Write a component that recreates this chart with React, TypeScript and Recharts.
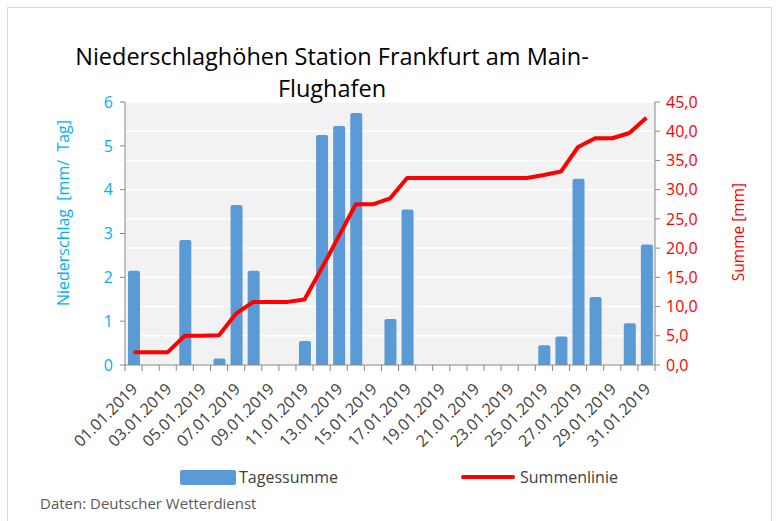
import { Bar, CartesianGrid, ComposedChart, Line, XAxis, YAxis } from "recharts";

const days = [
  "01.01.2019", "02.01.2019", "03.01.2019", "04.01.2019", "05.01.2019", "06.01.2019",
  "07.01.2019", "08.01.2019", "09.01.2019", "10.01.2019", "11.01.2019", "12.01.2019",
  "13.01.2019", "14.01.2019", "15.01.2019", "16.01.2019", "17.01.2019", "18.01.2019",
  "19.01.2019", "20.01.2019", "21.01.2019", "22.01.2019", "23.01.2019", "24.01.2019",
  "25.01.2019", "26.01.2019", "27.01.2019", "28.01.2019", "29.01.2019", "30.01.2019",
  "31.01.2019",
];

const tagessumme = [
  2.15, 0, 0, 2.85, 0, 0.15, 3.65, 2.15, 0, 0, 0.55, 5.25, 5.45, 5.75, 0, 1.05,
  3.55, 0, 0, 0, 0, 0, 0, 0, 0.45, 0.65, 4.25, 1.55, 0, 0.95, 2.75,
];

const summenlinie = [
  2.2, 2.2, 2.2, 5.0, 5.0, 5.1, 8.8, 10.8, 10.8, 10.8, 11.2, 16.5, 22.0, 27.5, 27.5, 28.5,
  32.0, 32.0, 32.0, 32.0, 32.0, 32.0, 32.0, 32.0, 32.5, 33.1, 37.3, 38.8, 38.8, 39.7, 42.3,
];

const leftTicks = [0, 1, 2, 3, 4, 5, 6];
const rightTicks = [0, 5, 10, 15, 20, 25, 30, 35, 40, 45];

const data = days.map((day, i) => ({
  day,
  tagessumme: tagessumme[i],
  summenlinie: summenlinie[i],
}));

const FONT = "'Open Sans', 'Noto Sans', sans-serif";
const PLOT_LEFT = 125;
const PLOT_RIGHT = 655;
const PLOT_TOP = 102;
const PLOT_BOTTOM = 365;
const BAND = (PLOT_RIGHT - PLOT_LEFT) / days.length;
const AXIS_GRAY = "#868686";

function DayTick(props: any) {
  const { x, y, payload, index } = props;
  const left = x - BAND / 2;
  return (
    <g>
      <line x1={left} y1={y - 8} x2={left} y2={y - 2} stroke={AXIS_GRAY} />
      {index === days.length - 1 && (
        <line x1={x + BAND / 2} y1={y - 8} x2={x + BAND / 2} y2={y - 2} stroke={AXIS_GRAY} />
      )}
      {index % 2 === 0 && (
        <text
          x={x + 5}
          y={y + 17}
          textAnchor="end"
          transform={`rotate(-45 ${x + 5} ${y + 17})`}
          fontSize={16}
          fontFamily={FONT}
          fill="#404040"
        >
          {payload.value}
        </text>
      )}
    </g>
  );
}

const fmt = (v: number) => v.toFixed(1).replace(".", ",");

export default function App() {
  return (
    <div style={{ position: "absolute", left: 0, top: 0, width: 776, height: 521, background: "#fff", fontFamily: FONT }}>
      <div style={{ position: "absolute", left: 7, top: 7, width: 763, height: 520, border: "1px solid #D9D9D9" }} />
      <ComposedChart
        width={776}
        height={521}
        data={data}
        margin={{ top: PLOT_TOP, right: 776 - PLOT_RIGHT - 60, left: PLOT_LEFT - 60, bottom: 521 - PLOT_BOTTOM - 80 }}
        barSize={12}
        style={{ position: "absolute", left: 0, top: 0 }}
      >
        <CartesianGrid yAxisId="right" vertical={false} stroke="#FFFFFF" strokeWidth={1.5} fill="#F2F2F2" />
        <XAxis
          dataKey="day"
          interval={0}
          height={80}
          tick={<DayTick />}
          tickLine={false}
          axisLine={{ stroke: AXIS_GRAY }}
        />
        <YAxis
          yAxisId="left"
          width={60}
          domain={[0, 6]}
          ticks={leftTicks}
          tick={{ fill: "#00B0F0", fontSize: 16, fontFamily: FONT }}
          tickSize={5}
          tickMargin={7}
          axisLine={{ stroke: AXIS_GRAY }}
          tickLine={{ stroke: AXIS_GRAY }}
        />
        <YAxis
          yAxisId="right"
          orientation="right"
          width={60}
          domain={[0, 45]}
          ticks={rightTicks}
          tickFormatter={fmt}
          tick={{ fill: "#FF0000", fontSize: 16, fontFamily: FONT }}
          tickSize={5}
          tickMargin={6}
          axisLine={{ stroke: AXIS_GRAY }}
          tickLine={{ stroke: AXIS_GRAY }}
        />
        <Bar yAxisId="left" dataKey="tagessumme" fill="#5B9BD5" radius={[2, 2, 0, 0]} isAnimationActive={false} />
        <Line
          yAxisId="right"
          dataKey="summenlinie"
          type="linear"
          stroke="#FF0000"
          strokeWidth={4}
          dot={false}
          activeDot={false}
          strokeLinejoin="round"
          isAnimationActive={false}
        />
      </ComposedChart>

      <div style={{ position: "absolute", left: 0, top: 40, width: 664, textAlign: "center", fontSize: 23.5, lineHeight: "32px", color: "#000" }}>
        Niederschlaghöhen Station Frankfurt am Main-
        <br />
        Flughafen
      </div>

      <div
        style={{
          position: "absolute",
          left: 63,
          top: 213,
          transform: "translate(-50%, -50%) rotate(-90deg)",
          whiteSpace: "nowrap",
          fontSize: 16,
          color: "#00B0F0",
        }}
      >
        Niederschlag&nbsp; [mm/&nbsp; Tag]
      </div>
      <div
        style={{
          position: "absolute",
          left: 738,
          top: 232,
          transform: "translate(-50%, -50%) rotate(-90deg)",
          whiteSpace: "nowrap",
          fontSize: 15.5,
          color: "#FF0000",
        }}
      >
        Summe [mm]
      </div>

      <div style={{ position: "absolute", left: 180, top: 466, display: "flex", alignItems: "center", fontSize: 16, color: "#404040" }}>
        <span style={{ width: 56, height: 15, background: "#5B9BD5", borderRadius: 2, marginRight: 3 }} />
        Tagessumme
      </div>
      <div style={{ position: "absolute", left: 461, top: 466, display: "flex", alignItems: "center", fontSize: 16, color: "#404040" }}>
        <span style={{ width: 54, height: 4, background: "#FF0000", borderRadius: 2, marginRight: 5 }} />
        Summenlinie
      </div>

      <div style={{ position: "absolute", left: 40, top: 493, fontSize: 15, color: "#595959" }}>
        Daten: Deutscher Wetterdienst
      </div>
    </div>
  );
}
